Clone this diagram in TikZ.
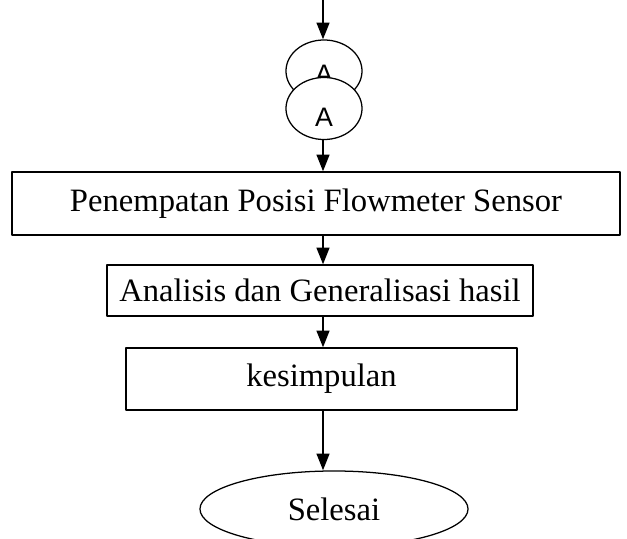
\documentclass[tikz,border=0pt]{standalone}
\usepackage{fontspec}
\setmainfont{Liberation Serif}
\newfontfamily\arial{Liberation Sans}
\usetikzlibrary{arrows.meta,shapes.geometric}
\begin{document}
\begin{tikzpicture}[x=0.025cm, y=-0.025cm, line join=round,
		>={Triangle[length=0.42cm,width=0.32cm]},
		flow/.style={->, line width=1.4pt},
		proses/.style={draw, line width=0.9pt, inner sep=0pt, font=\fontsize{23.2}{28}\selectfont},
		konektor/.style={draw, fill=white, ellipse, line width=0.9pt, inner sep=0pt,
			minimum width=1.9cm, minimum height=1.55cm},
		huruf/.style={font=\arial\fontsize{19}{22}\selectfont, inner sep=0pt},
		terminal/.style={draw, ellipse, line width=0.9pt, inner sep=0pt, font=\fontsize{23.2}{28}\selectfont}]
	\useasboundingbox (0,0) rectangle (627,539);
	\coordinate (atas) at (323,0);
	% konektor halaman
	\node[konektor] (A1) at (324,71) {};
	\node[huruf] (tA1) at (324,74) {A};
	\node[konektor] (A2) at (324,108.5) {};
	\node[huruf] (tA2) at (324,117) {A};
	% proses
	\node[proses, minimum width=15.2cm, minimum height=1.575cm] (posisi) at (316,203.5) {Penempatan Posisi Flowmeter Sensor};
	\node[proses, minimum width=10.65cm, minimum height=1.275cm] (analisis) at (320,290.5) {Analisis dan Generalisasi hasil};
	\node[proses, minimum width=9.775cm, minimum height=1.55cm] (simpul) at (321.5,379) {kesimpulan};
	\node[terminal, minimum width=6.7cm, minimum height=1.9cm] (selesai) at (334,509) {Selesai};
	% alur
	\draw[flow] (atas) -- (A1.north -| atas);
	\draw[flow] (A2.south -| atas) -- (posisi.north -| atas);
	\draw[flow] (posisi.south -| atas) -- (analisis.north -| atas);
	\draw[flow] (analisis.south -| atas) -- (simpul.north -| atas);
	\draw[flow] (simpul.south -| atas) -- (selesai.north -| atas);
\end{tikzpicture}
\end{document}
